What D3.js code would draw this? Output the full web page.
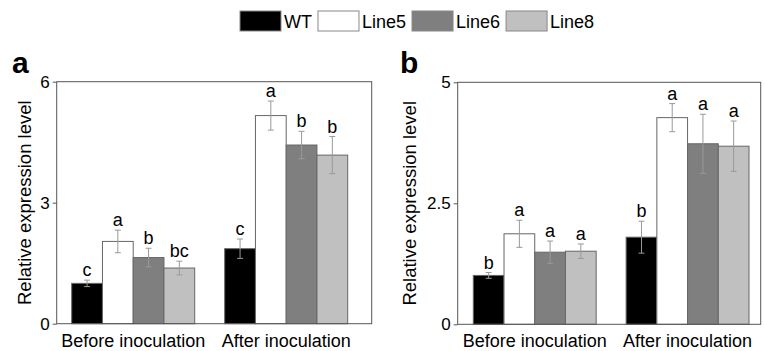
<!DOCTYPE html>
<html>
<head>
<meta charset="utf-8">
<script src="https://cdn.jsdelivr.net/npm/d3@7"></script>
<style>
  body { margin: 0; background: #fff; }
  text { font-family: "Liberation Sans", Arial, sans-serif; fill: #000; }
</style>
</head>
<body>
<svg id="chart" width="765" height="351"></svg>
<script>
// categories and series
const groups = ['Before inoculation', 'After inoculation'];
const series = ['WT', 'Line5', 'Line6', 'Line8'];
const colors = ['#000000', '#ffffff', '#7f7f7f', '#c0c0c0'];

// panel a values (rows = groups, cols = series)
const aMeans = [[1.00, 2.04, 1.64, 1.38], [1.86, 5.16, 4.43, 4.18]];
const aErrors = [[0.08, 0.28, 0.23, 0.17], [0.24, 0.36, 0.34, 0.46]];
const aLetters = [['c', 'a', 'b', 'bc'], ['c', 'a', 'b', 'b']];
const aTicks = [0, 3, 6];

// panel b values
const bMeans = [[1.01, 1.87, 1.49, 1.51], [1.80, 4.27, 3.73, 3.68]];
const bErrors = [[0.06, 0.28, 0.23, 0.15], [0.33, 0.29, 0.61, 0.52]];
const bLetters = [['b', 'a', 'a', 'a'], ['b', 'a', 'a', 'a']];
const bTicks = [0, 2.5, 5];

const svg = d3.select('#chart');

function drawPanel(p) {
  const yScale = d3.scaleLinear().domain([0, p.ticks[p.ticks.length - 1]]).range([p.bottom, p.top]);
  const x0 = d3.scaleBand().domain(groups).range([p.bandLeft, p.bandRight]).paddingInner(0.196).paddingOuter(0);
  const x1 = d3.scaleBand().domain(series).range([0, x0.bandwidth()]);

  const g = svg.append('g');

  // bars
  groups.forEach((grp, gi) => {
    const rows = series.map((s, si) => ({ s: s, si: si, v: p.means[gi][si], e: p.errors[gi][si], l: p.letters[gi][si] }));
    const cg = g.append('g').attr('transform', `translate(${x0(grp)},0)`);
    cg.selectAll('rect')
      .data(rows)
      .enter()
      .append('rect')
      .attr('x', d => x1(d.s))
      .attr('y', d => yScale(d.v))
      .attr('width', x1.bandwidth())
      .attr('height', d => p.bottom - yScale(d.v))
      .attr('fill', d => colors[d.si])
      .attr('stroke', '#666')
      .attr('stroke-width', 1);

    // error bars
    const eb = cg.selectAll('.err').data(rows).enter().append('g').attr('class', 'err');
    eb.append('line')
      .attr('x1', d => x1(d.s) + x1.bandwidth() / 2)
      .attr('x2', d => x1(d.s) + x1.bandwidth() / 2)
      .attr('y1', d => yScale(d.v - d.e))
      .attr('y2', d => yScale(d.v + d.e));
    eb.append('line')
      .attr('x1', d => x1(d.s) + x1.bandwidth() / 2 - 3)
      .attr('x2', d => x1(d.s) + x1.bandwidth() / 2 + 3)
      .attr('y1', d => yScale(d.v + d.e))
      .attr('y2', d => yScale(d.v + d.e));
    eb.append('line')
      .attr('x1', d => x1(d.s) + x1.bandwidth() / 2 - 3)
      .attr('x2', d => x1(d.s) + x1.bandwidth() / 2 + 3)
      .attr('y1', d => yScale(d.v - d.e))
      .attr('y2', d => yScale(d.v - d.e));
    eb.selectAll('line').attr('stroke', '#999').attr('stroke-width', 1);

    // significance letters
    cg.selectAll('.label')
      .data(rows)
      .enter()
      .append('text')
      .attr('class', 'label')
      .text(d => d.l)
      .attr('x', d => x1(d.s) + x1.bandwidth() / 2)
      .attr('y', d => yScale(d.v + d.e) - 4)
      .attr('text-anchor', 'middle')
      .style('font-size', '18px');
  });

  // frame
  g.append('rect')
    .attr('x', p.left).attr('y', p.top)
    .attr('width', p.right - p.left).attr('height', p.bottom - p.top)
    .attr('fill', 'none').attr('stroke', '#555').attr('stroke-width', 1);

  // y axis
  const yAxis = g.append('g')
    .attr('transform', `translate(${p.left},0)`)
    .call(d3.axisLeft(yScale).tickValues(p.ticks).tickSize(4).tickPadding(3).tickFormat(d => String(d)));
  yAxis.select('.domain').remove();
  yAxis.selectAll('line').attr('stroke', '#555');
  yAxis.selectAll('text').style('font-size', '17px').attr('font-family', null);

  // category labels
  g.selectAll('.cat')
    .data(groups)
    .enter()
    .append('text')
    .attr('class', 'cat')
    .text(d => d)
    .attr('x', d => x0(d) + x0.bandwidth() / 2)
    .attr('y', 346.5)
    .attr('text-anchor', 'middle')
    .style('font-size', '18px');

  // axis title
  g.append('text')
    .text('Relative expression level')
    .attr('transform', `translate(${p.titleX},${(p.top + p.bottom) / 2}) rotate(-90)`)
    .attr('text-anchor', 'middle')
    .style('font-size', '18.5px');

  // panel letter
  g.append('text')
    .text(p.name)
    .attr('x', p.nameX)
    .attr('y', 72.7)
    .style('font-size', '30px')
    .style('font-weight', 'bold');
}

drawPanel({
  name: 'a', nameX: 12, titleX: 31,
  left: 56.7, right: 371.7, top: 81.7, bottom: 323.7,
  bandLeft: 71.7, bandRight: 347.7,
  means: aMeans, errors: aErrors, letters: aLetters, ticks: aTicks
});

drawPanel({
  name: 'b', nameX: 400, titleX: 416,
  left: 457.7, right: 760.7, top: 82.3, bottom: 324.3,
  bandLeft: 473.3, bandRight: 749,
  means: bMeans, errors: bErrors, letters: bLetters, ticks: bTicks
});

// legend
const legend = svg.append('g');
let cx = 240;
series.forEach((s, i) => {
  legend.append('rect')
    .attr('x', cx).attr('y', 11)
    .attr('width', 41).attr('height', 20)
    .attr('fill', colors[i])
    .attr('stroke', '#888');
  const t = legend.append('text')
    .text(s)
    .attr('x', cx + 44)
    .attr('y', 28)
    .style('font-size', '18px');
  cx = cx + 44 + t.node().getComputedTextLength() + 6;
});
</script>
</body>
</html>
